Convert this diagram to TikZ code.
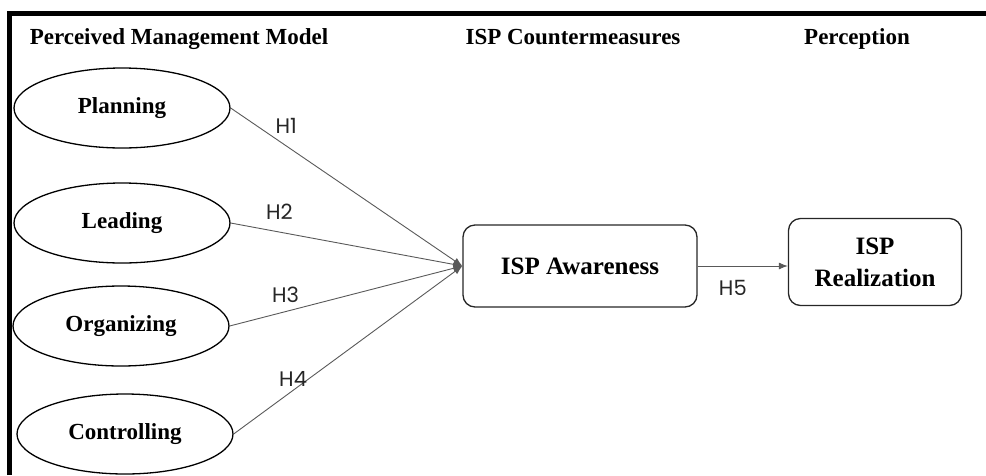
\documentclass[tikz,border=0pt]{standalone}
\usepackage{fontspec}
\setmainfont{Liberation Serif}
\newfontfamily\hypfont{Poppins}
\usetikzlibrary{shapes.geometric,arrows.meta}

\begin{document}
\begin{tikzpicture}[x=1pt, y=-1pt,
    heading/.style={font=\fontsize{23}{25}\selectfont\bfseries, inner sep=0pt, anchor=base},
    factor/.style={ellipse, draw, line width=1.3pt, minimum width=216pt, minimum height=80pt,
        font=\fontsize{23}{25}\selectfont\bfseries},
    construct/.style={rectangle, rounded corners=12pt, draw=black!85, line width=1.3pt,
        align=center, font=\fontsize{25}{32}\selectfont\bfseries},
    effect/.style={draw=black!65, line width=0.9pt, -{Latex[length=9pt,width=7pt]}},
    hyp/.style={font=\hypfont\fontsize{21}{23}\selectfont, inner sep=0pt, text=black!85}]

    \useasboundingbox (0,0) rectangle (986,475);
    \draw[line width=5pt] (9.5,475) -- (9.5,13) -- (986,13);

    % column headings
    \node[heading] (hmodel) at (179,44) {Perceived Management Model};
    \node[heading] (hcounter) at (573,44) {ISP Countermeasures};
    \node[heading] (hperc) at (857,44) {Perception};

    % management functions
    \node[factor] (plan) at (122,108) {Planning};
    \node[factor] (lead) at (122,223) {Leading};
    \node[factor] (org) at (121,326) {Organizing};
    \node[factor] (ctrl) at (125,434) {Controlling};

    \node[construct, minimum width=234pt, minimum height=82pt] (aware) at (580,266) {ISP Awareness};
    \node[construct, minimum width=173pt, minimum height=87pt] (real) at (875,262) {ISP\\Realization};

    \draw[effect] (plan.east) -- node[hyp, pos=0.24, above=12pt] (h1) {H1} (aware.west);
    \draw[effect] (lead.east) -- node[hyp, pos=0.21, above=12pt] (h2) {H2} (aware.west);
    \draw[effect] (org.east) -- node[hyp, pos=0.24, above=9pt] (h3) {H3} (aware.west);
    \draw[effect] (ctrl.east) -- node[hyp, pos=0.26, above=3pt] (h4) {H4} (aware.west);
    \draw[effect] (aware.east) -- node[hyp, pos=0.39, below=14pt] (h5) {H5} (real.west |- aware.east);
\end{tikzpicture}
\end{document}
